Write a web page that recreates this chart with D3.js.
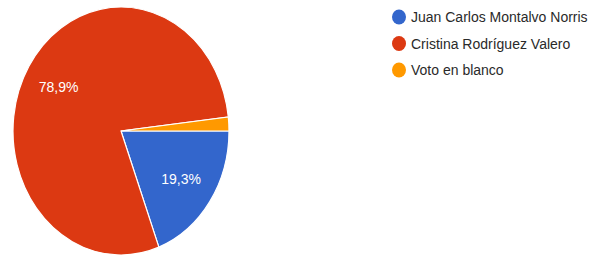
<!DOCTYPE html>
<html>
<head>
<meta charset="utf-8">
<script src="https://cdn.jsdelivr.net/npm/d3@7"></script>
<style>
  html, body { margin: 0; padding: 0; background: #ffffff; }
  svg { display: block; font-family: "Liberation Sans", Arial, sans-serif; }
</style>
</head>
<body>
<svg id="chart" width="604" height="260"></svg>
<script>
const categories = ["Juan Carlos Montalvo Norris", "Cristina Rodríguez Valero", "Voto en blanco"];
const values = [19.3, 78.9, 1.8];
const labels = ["19,3%", "78,9%", ""];
const colors = ["#3366cc", "#dc3912", "#ff9900"];

const svg = d3.select("#chart");
const cx = 121, cy = 131, ry = 124, rx = 108;
const sx = rx / ry;

const pie = d3.pie().sort(null).startAngle(Math.PI / 2).endAngle(Math.PI / 2 + 2 * Math.PI);
const arcs = pie(values);
const arc = d3.arc().innerRadius(0).outerRadius(ry);
const labelArc = d3.arc().innerRadius(84).outerRadius(84);

const g = svg.append("g").attr("transform", `translate(${cx},${cy}) scale(${sx},1)`);
g.selectAll("path").data(arcs).join("path")
  .attr("d", arc)
  .attr("fill", (d, i) => colors[i])
  .attr("stroke", "#ffffff")
  .attr("stroke-width", 1.2)
  .attr("vector-effect", "non-scaling-stroke");

svg.append("g").selectAll("text").data(arcs).join("text")
  .attr("x", d => cx + labelArc.centroid(d)[0] * sx)
  .attr("y", d => cy + labelArc.centroid(d)[1])
  .attr("text-anchor", "middle")
  .attr("dominant-baseline", "central")
  .attr("fill", "#ffffff")
  .attr("font-size", 14)
  .text((d, i) => labels[i]);

const legend = svg.append("g").attr("transform", "translate(399,17)");
const rows = legend.selectAll("g").data(categories).join("g")
  .attr("transform", (d, i) => `translate(0,${i * 26.5})`);
rows.append("ellipse").attr("rx", 7).attr("ry", 7.5).attr("fill", (d, i) => colors[i]);
rows.append("text")
  .attr("x", 12)
  .attr("dominant-baseline", "central")
  .attr("font-size", 14)
  .attr("fill", "#2a2a2a")
  .text(d => d);
</script>
</body>
</html>
